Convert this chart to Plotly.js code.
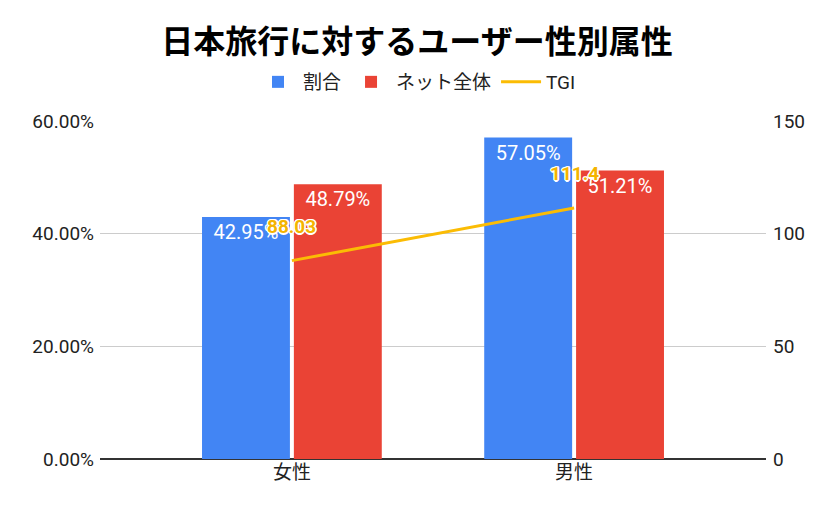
<!DOCTYPE html>
<html>
<head>
<meta charset="utf-8">
<script src="https://cdn.plot.ly/plotly-3.0.1.min.js"></script>
<style>
html,body{margin:0;padding:0;background:#fff;}
#chart{width:834px;height:514px;}
</style>
</head>
<body>
<div id="chart"></div>
<script>
const categories = ['女性', '男性'];
const shareValues = [42.95, 57.05];
const netValues = [48.79, 51.21];
const tgiValues = [88.03, 111.4];
const seriesNames = ['割合', 'ネット全体', 'TGI'];
const leftTicks = [0, 20, 40, 60];
const rightTicks = [0, 50, 100, 150];

const FONT = 'Roboto, Arial, "Noto Sans CJK JP", sans-serif';
const outline = '1px 1px 0 #fff, -1px -1px 0 #fff, 1px -1px 0 #fff, -1px 1px 0 #fff, 0 1.5px 0 #fff, 0 -1.5px 0 #fff, 1.5px 0 0 #fff, -1.5px 0 0 #fff';

const barCommon = {
  type: 'bar',
  x: categories,
  textposition: 'inside',
  insidetextanchor: 'end',
  textangle: 0,
  texttemplate: '%{y:.2f}%',
  insidetextfont: {color: '#ffffff', size: 20, family: FONT},
  hoverinfo: 'skip',
  cliponaxis: false
};

const data = [
  Object.assign({}, barCommon, {
    name: seriesNames[0], y: shareValues,
    marker: {color: '#4285F4'}
  }),
  Object.assign({}, barCommon, {
    name: seriesNames[1], y: netValues,
    marker: {color: '#EA4335'}
  }),
  {
    type: 'scatter', mode: 'lines', name: seriesNames[2],
    x: categories, y: tgiValues, yaxis: 'y2',
    line: {color: '#FBBC04', width: 3},
    hoverinfo: 'skip'
  }
];

const annotations = categories.map((c, i) => ({
  x: c, y: tgiValues[i], xref: 'x', yref: 'y2',
  text: String(tgiValues[i]), showarrow: false,
  yshift: 34,
  font: {family: FONT, size: 19, color: '#F4B400', weight: 700, shadow: outline}
}));

const layout = {
  width: 834, height: 514,
  margin: {l: 100, r: 68, t: 121, b: 55, autoexpand: false},
  paper_bgcolor: '#fff', plot_bgcolor: '#fff',
  font: {family: FONT, color: '#222', size: 19},
  title: {
    text: '日本旅行に対するユーザー性別属性',
    font: {size: 32, weight: 700, color: '#000', family: '"Noto Sans CJK JP", sans-serif'},
    x: 0.5, xanchor: 'center', xref: 'container',
    y: 1 - 42 / 514, yanchor: 'middle', yref: 'container'
  },
  barmode: 'group',
  bargap: 0.349,
  bargroupgap: 0.043,
  showlegend: true,
  legend: {
    orientation: 'h', x: 0.476, xanchor: 'center', xref: 'paper',
    y: 1 + (121 - 82) / 338, yanchor: 'middle',
    font: {size: 19, color: '#222'},
    itemwidth: 40, traceorder: 'normal'
  },
  xaxis: {
    type: 'category',
    range: [-0.68, 1.68],
    showgrid: false, zeroline: false,
    showline: false,
    ticks: '', tickfont: {size: 19, color: '#222'},
    fixedrange: true
  },
  yaxis: {
    range: [0, 60],
    tickvals: leftTicks,
    ticktext: leftTicks.map(v => v.toFixed(2) + '%'),
    showgrid: true, gridcolor: '#cccccc', gridwidth: 1,
    zeroline: true, zerolinecolor: '#333333', zerolinewidth: 1.5,
    showline: false, ticks: '',
    ticklabelstandoff: 5,
    tickfont: {size: 19, color: '#222'},
    fixedrange: true
  },
  yaxis2: {
    overlaying: 'y', side: 'right',
    range: [0, 150],
    tickvals: rightTicks,
    showgrid: false, zeroline: false, showline: false, ticks: '',
    ticklabelstandoff: 6,
    tickfont: {size: 19, color: '#222'},
    fixedrange: true
  },
  annotations: annotations
};

Plotly.newPlot('chart', data, layout, {displayModeBar: false, staticPlot: true});
</script>
</body>
</html>
